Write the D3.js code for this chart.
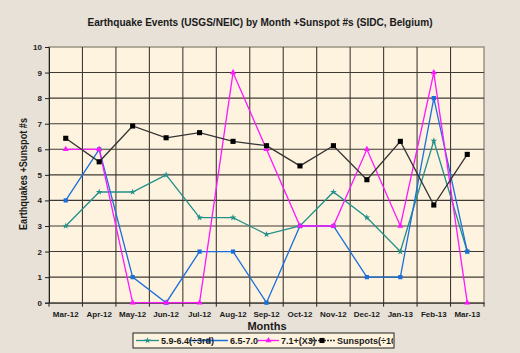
<!DOCTYPE html>
<html><head><meta charset="utf-8">
<script src="https://cdn.jsdelivr.net/npm/d3@7"></script>
<style>
html,body{margin:0;padding:0;background:#e7e1d7;}
svg{display:block;}
text{font-family:"Liberation Sans",Arial,sans-serif;font-weight:bold;fill:#1a1a1a;}
</style></head>
<body>
<svg id="c" width="520" height="353"></svg>
<script>
const months = ["Mar-12","Apr-12","May-12","Jun-12","Jul-12","Aug-12","Sep-12","Oct-12","Nov-12","Dec-12","Jan-13","Feb-13","Mar-13"];
const mag59 = [3, 4.33, 4.33, 5, 3.33, 3.33, 2.67, 3, 4.33, 3.33, 2, 6.33, 2];
const mag65 = [4, 6, 1, 0, 2, 2, 0, 3, 3, 1, 1, 8, 2];
const mag71 = [6, 6, 0, 0, 0, 9, 6, 3, 3, 6, 3, 9, 0];
const sunspots = [6.43, 5.51, 6.91, 6.45, 6.65, 6.31, 6.14, 5.35, 6.14, 4.81, 6.31, 3.82, 5.8];
const yTicks = [0,1,2,3,4,5,6,7,8,9,10];
const seriesNames = ["5.9-6.4(\u00F73rd)", "6.5-7.0", "7.1+(X3)", "Sunspots(\u00F7100)"];

const svg = d3.select("#c");
svg.append("rect").attr("width",520).attr("height",353).attr("fill","#e7e1d7");

const L=49, R=484, T=47, B=302.7;
const x = d3.scaleBand().domain(months).range([L,R]);
const y = d3.scaleLinear().domain([0,10]).range([B,T]);

svg.append("rect").attr("x",L).attr("y",T).attr("width",R-L).attr("height",B-T)
  .attr("fill","#fdf3df").attr("stroke","#9c9283").attr("stroke-width",1.5);

const g = svg.append("g");
g.selectAll("line.h").data(yTicks.slice(1,-1)).join("line")
  .attr("x1",L).attr("x2",R).attr("y1",d=>y(d)).attr("y2",d=>y(d))
  .attr("stroke","#3f3a35").attr("stroke-width",1.1);
g.selectAll("line.v").data(months.slice(1)).join("line")
  .attr("x1",d=>x(d)).attr("x2",d=>x(d)).attr("y1",T).attr("y2",B)
  .attr("stroke","#3f3a35").attr("stroke-width",1.1);

const yAxis = d3.axisLeft(y).tickValues(yTicks).tickSize(4).tickPadding(3);
const ya = svg.append("g").attr("transform",`translate(${L},0)`).call(yAxis);
ya.select(".domain").attr("stroke","#222");
ya.selectAll(".tick line").attr("stroke","#222");
ya.selectAll("text").attr("font-size",8).attr("font-family","Liberation Sans").attr("font-weight","bold").attr("fill","#1a1a1a");

const xAxis = d3.axisBottom(x).tickSize(0).tickPadding(9);
const xa = svg.append("g").attr("transform",`translate(0,${B})`).call(xAxis);
xa.select(".domain").attr("stroke","#222");
xa.selectAll("text").attr("font-size",8).attr("font-family","Liberation Sans").attr("font-weight","bold").attr("fill","#1a1a1a");
xa.selectAll("line.bt").data(d3.range(0,months.length+1)).join("line")
  .attr("x1",i=>L+i*x.step()).attr("x2",i=>L+i*x.step()).attr("y1",0).attr("y2",4).attr("stroke","#222");

svg.append("text").attr("x",260).attr("y",26).attr("text-anchor","middle").attr("font-size",11.5)
  .attr("textLength",345).attr("lengthAdjust","spacingAndGlyphs")
  .text("Earthquake Events (USGS/NEIC) by Month +Sunspot #s (SIDC, Belgium)");
svg.append("text").attr("transform","translate(27,174) rotate(-90)").attr("text-anchor","middle").attr("font-size",10.5)
  .attr("textLength",112).attr("lengthAdjust","spacingAndGlyphs")
  .text("Earthquakes +Sunspot #s");
svg.append("text").attr("x",267).attr("y",330).attr("text-anchor","middle").attr("font-size",11).text("Months");

const cx = d => x(d) + x.bandwidth()/2;
const series = [
  {name:seriesNames[0], vals:mag59, color:"#23908a", sym:d3.symbolStar, size:14, dash:null, ldash:null},
  {name:seriesNames[1], vals:mag65, color:"#1b6fdc", sym:d3.symbolSquare, size:18, dash:null, ldash:null},
  {name:seriesNames[2], vals:mag71, color:"#ff17ff", sym:d3.symbolTriangle, size:16, dash:null, ldash:null},
  {name:seriesNames[3], vals:sunspots, color:"#333333", sym:d3.symbolSquare, size:26, dash:null, ldash:"2,1"}
];
const line = d3.line().x((d,i)=>cx(months[i])).y(d=>y(d));
series.forEach(s=>{
  svg.append("path").datum(s.vals).attr("d",line).attr("fill","none")
    .attr("stroke",s.color).attr("stroke-width",1.3).attr("stroke-dasharray",s.dash);
  svg.append("g").selectAll("path").data(s.vals).join("path")
    .attr("d",d3.symbol().type(s.sym).size(s.size))
    .attr("transform",(d,i)=>`translate(${cx(months[i])},${y(d)})`)
    .attr("fill",s.color === "#333333" ? "#000" : s.color);
});

const lg = svg.append("g");
lg.append("rect").attr("x",133).attr("y",333).attr("width",261).attr("height",15)
  .attr("fill","#fdf3df").attr("stroke","#222").attr("stroke-width",1);
const legX = [136, 189, 258, 309];
const legTX = [161, 230, 281, 337];
series.forEach((s,i)=>{
  const x0 = legX[i], x1 = legTX[i]-2;
  lg.append("line").attr("x1",x0).attr("x2",x1).attr("y1",340.5).attr("y2",340.5)
    .attr("stroke",s.color).attr("stroke-width",1.3).attr("stroke-dasharray",s.ldash);
  lg.append("path").attr("d",d3.symbol().type(s.sym).size(s.size)())
    .attr("transform",`translate(${(x0+x1)/2},340.5)`).attr("fill",s.color === "#333333" ? "#000" : s.color);
});
svg.append("clipPath").attr("id","lc").append("rect").attr("x",133).attr("y",333).attr("width",260).attr("height",15);
series.forEach((s,i)=>{
  lg.append("text").attr("x",legTX[i]).attr("y",344).attr("font-size",9)
    .attr("clip-path","url(#lc)").text(s.name);
});
</script>
</body></html>
